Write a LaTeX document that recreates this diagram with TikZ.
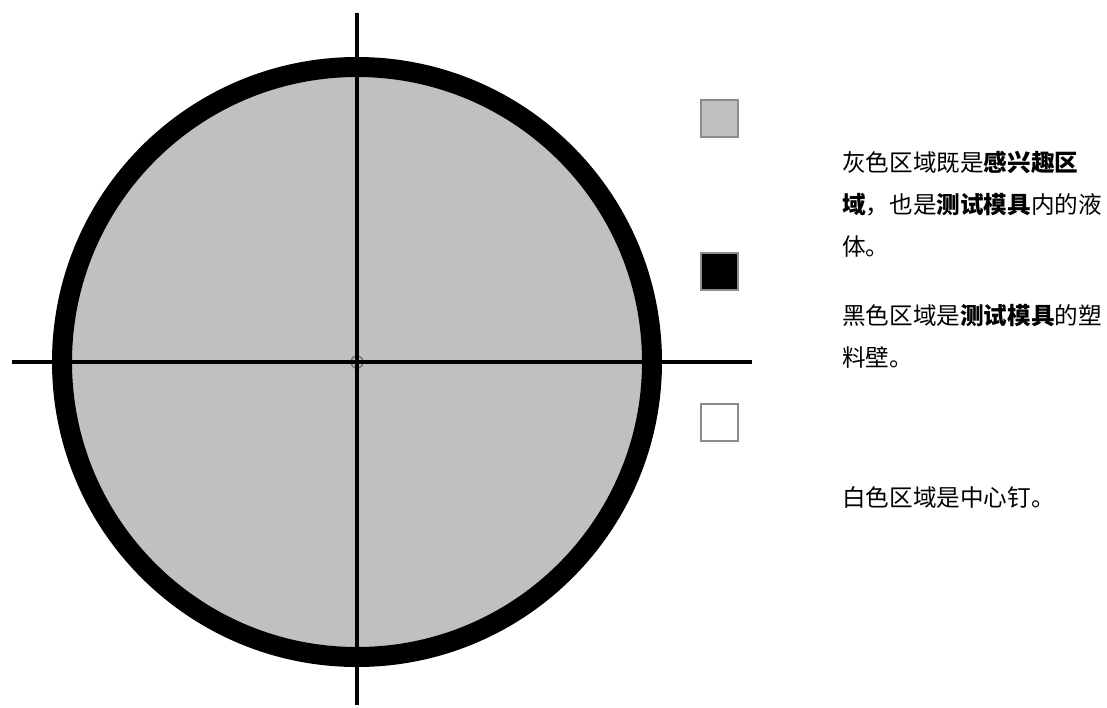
\documentclass[tikz,border=0pt]{standalone}
\usepackage{fontspec}
\setmainfont{Noto Sans CJK SC}
\usepackage{tikz}
\usetikzlibrary{positioning}
\definecolor{roi}{RGB}{192,192,192}

\begin{document}
\begin{tikzpicture}[x=1pt, y=-1pt,
  key/.style={draw=black!45, line width=2pt, minimum size=37pt, inner sep=0pt},
  axis/.style={line width=4pt},
  desc/.style={anchor=north west, align=left, inner sep=0pt,
               font=\fontsize{23.6}{42}\selectfont},
]
  \useasboundingbox (0,0) rectangle (1107,707);

  % phantom: wall and liquid
  \coordinate (C) at (357,362);
  \draw[line width=20pt, fill=roi] (C) circle[radius=295pt];
  \draw[black!55, line width=1.5pt] (C) circle[radius=6pt];

  % axes
  \coordinate (T) at (357,13);
  \coordinate (B) at (357,705);
  \coordinate (L) at (12,362);
  \coordinate (R) at (752,362);
  \draw[axis] (T) -- (B);
  \draw[axis] (L) -- (R);

  % legend
  \node[key, fill=roi] (KG) at (719,118) {};
  \node[key, fill=black] (KB) at (719,271) {};
  \node[key, fill=white] (KW) at (719,422) {};

  \node[desc] (DG) at (842,151) {灰色区域既是{\bfseries 感兴趣区}\\{\bfseries 域}，也是{\bfseries 测试模具}内的液\\体。};
  \node[desc] (DB) at (842,304) {黑色区域是{\bfseries 测试模具}的塑\\料壁。};
  \node[desc] (DW) at (842,486) {白色区域是中心钉。};
\end{tikzpicture}
\end{document}
